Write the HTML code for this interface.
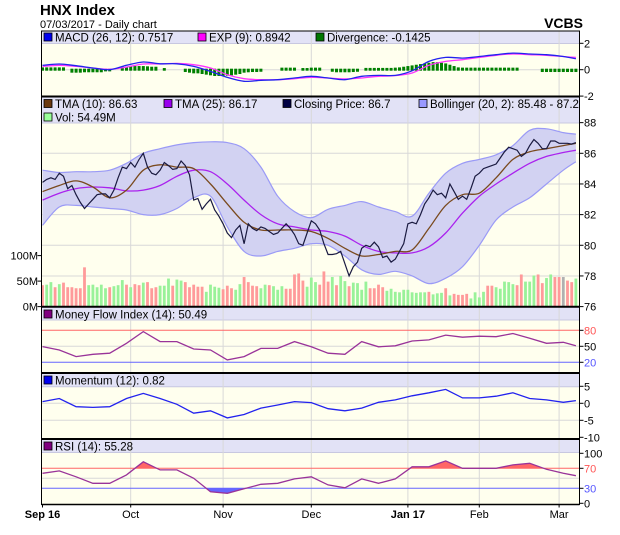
<!DOCTYPE html>
<html><head><meta charset="utf-8"><style>
html,body{margin:0;padding:0;background:#fff;}
svg{display:block;font-family:"Liberation Sans",sans-serif;}
</style></head><body>
<svg id="chart" width="620" height="535" viewBox="0 0 620 535" xmlns="http://www.w3.org/2000/svg">
<text x="40" y="15" font-size="15" font-weight="bold" fill="#000">HNX Index</text>
<text x="40" y="28" font-size="11" fill="#000">07/03/2017 - Daily chart</text>
<text x="583" y="28" font-size="14" font-weight="bold" text-anchor="end" fill="#000">VCBS</text>
<g id="layer"></g>
</svg>
<script>
// ---- data ----
const monthLabels = ["Sep 16","Oct","Nov","Dec","Jan 17","Feb","Mar"];
const monthBold = [true,false,false,false,true,false,false];
const monthStartIdx = [0,21,43,64,87,104,123];
const closes = [84.1,84.3,84.4,84.3,84.7,84.5,83.7,83.9,83.3,82.8,82.4,82.7,83.0,83.3,83.35,83.35,83.1,83.6,84.4,85.1,85.0,85.4,85.1,85.6,86.0,85.1,84.7,84.6,84.9,85.4,85.2,84.95,85.0,85.5,85.2,84.6,82.95,83.05,82.35,82.7,83.0,82.3,81.9,81.4,80.8,80.5,81.0,81.3,80.1,81.4,81.1,80.95,81.2,81.1,80.9,80.7,80.8,81.1,81.4,81.1,80.7,80.1,80.0,80.8,81.6,81.4,81.0,80.1,79.4,79.4,79.45,79.6,78.8,78.0,78.6,78.9,79.8,80.0,79.9,80.2,79.9,79.2,79.3,78.9,79.1,79.6,80.1,81.4,81.5,81.4,82.0,82.7,83.1,83.6,83.3,83.4,83.1,84.0,83.5,83.0,83.2,83.0,83.7,84.5,84.7,85.0,85.1,85.2,85.3,85.7,86.1,86.4,86.3,86.2,85.8,86.0,86.5,86.9,86.65,86.3,86.3,86.8,86.8,86.65,86.65,86.65,86.6,86.7];
const volumes = [42,43,48,38,44,47,38,38,36,36,77,42,43,38,43,36,38,40,42,52,43,38,44,42,47,48,36,38,41,41,55,41,53,51,48,38,43,39,39,29,43,39,37,34,41,36,33,44,58,48,41,40,36,43,42,40,33,40,35,35,63,65,51,39,57,48,43,69,49,58,42,60,50,40,47,46,33,49,36,36,43,38,31,35,29,28,33,33,28,27,28,28,29,24,26,27,36,22,25,23,23,25,16,28,18,29,41,41,38,35,49,48,44,42,63,49,49,61,63,46,56,63,58,58,58,51,48,55];
const volDir = ["d","g","g","d","g","d","d","d","d","d","d","g","g","g","g","g","d","g","g","g","d","g","d","d","g","d","d","d","g","g","g","d","g","g","d","d","d","d","d","g","g","g","g","d","d","d","g","g","d","d","d","d","g","g","d","g","g","g","d","d","d","d","d","g","g","g","d","d","d","g","d","g","g","d","g","g","g","g","d","d","d","d","g","g","g","g","g","g","g","g","g","g","d","g","g","g","d","g","d","d","d","d","g","g","g","g","d","d","g","g","g","g","g","d","d","g","g","g","d","d","g","g","d","d","n","d","d","g"];
// sampled every 4 trading days (last sample = final day)
const sampleStep = 4;
const tma10 = [83.5,83.9,84.2,83.8,83.1,83.6,84.9,85.25,85.1,85.0,84.0,82.7,81.5,81.0,81.0,81.0,80.9,80.45,79.8,79.3,79.4,79.6,79.7,81.1,82.6,83.3,83.4,84.4,85.6,86.1,86.3,86.5,86.65];
const tma25 = [82.95,83.4,83.7,83.8,83.75,83.55,83.6,83.9,84.5,84.9,84.8,84.0,82.95,82.0,81.4,81.2,81.0,80.9,80.6,80.0,79.6,79.5,79.5,79.9,80.8,82.1,83.2,84.0,84.7,85.35,85.8,86.05,86.2];
const bollUpper = [84.9,84.75,84.8,84.8,84.9,85.35,86.0,86.3,86.55,86.7,86.75,86.7,86.3,85.1,83.2,82.2,81.8,82.35,82.6,82.85,82.5,82.2,81.9,83.4,84.7,85.35,85.6,85.9,86.5,87.5,87.6,87.35,87.25];
const bollLower = [81.3,82.5,82.6,82.5,82.4,82.3,82.0,82.0,82.4,83.1,83.2,81.2,79.6,79.3,79.6,79.8,80.1,80.0,79.3,78.4,78.1,78.3,78.0,77.5,77.85,78.6,80.0,81.65,82.5,83.1,84.0,84.9,85.45];
const macd = [0.33,0.43,0.3,0.13,0,0.33,0.58,0.45,0.45,0.25,-0.13,-0.58,-0.88,-0.8,-0.76,-0.63,-0.5,-0.63,-0.76,-0.5,-0.43,-0.43,-0.08,0.63,0.93,0.88,1.0,1.14,1.26,1.19,1.14,1.0,0.83];
const macdSignal = [0.25,0.33,0.25,0.13,0.03,0.2,0.43,0.43,0.48,0.38,0.13,-0.38,-0.68,-0.76,-0.76,-0.68,-0.58,-0.63,-0.7,-0.63,-0.5,-0.45,-0.25,0.33,0.63,0.76,0.93,1.09,1.19,1.14,1.09,1.0,0.93];
const divergence = [0.1,0.1,0.1,0.1,0.1,0.1,0,-0.15,-0.15,-0.15,-0.12,-0.12,-0.12,-0.12,-0.12,-0.05,-0.05,0,0,0.15,0.15,0.18,0.2,0.2,0.2,0.18,0.15,0.15,0,0.05,0,0,0,0,-0.1,-0.15,-0.2,-0.2,-0.25,-0.3,-0.35,-0.4,-0.4,-0.4,-0.38,-0.35,-0.3,-0.25,-0.15,-0.12,-0.1,-0.1,-0.08,0,0,0,0,0.08,0.08,0.08,0.08,0,0.05,0.05,0.08,0.08,0.08,0,0,-0.08,-0.12,-0.12,-0.12,-0.12,-0.1,-0.08,0,0.06,0.06,0.06,0.06,0.06,0.06,0.06,0.08,0.1,0.15,0.2,0.25,0.3,0.35,0.4,0.45,0.5,0.5,0.45,0.4,0.3,0.2,0.1,0.08,0.08,0.08,0.08,0.08,0.08,0.08,0.08,0.08,0.08,0.08,0.08,0.08,0.08,0,0,0,0,0,-0.1,-0.1,-0.1,-0.1,-0.1,-0.1,-0.1,-0.1,-0.1];
const mfi = [49.4,43,30.6,35,37,55.6,77.5,58.8,58.8,45,43,24.4,30.6,46,46,58.8,49,37,35,58.8,49,51,60,62,71,67,69,68,74,65,55.6,57.5,51];
const momentum = [0.5,1.4,-1,-1.2,-1,1.4,2.9,1.4,-0.3,-2.9,-2.2,-4.3,-3.3,-1.4,-0.5,0.5,0.2,-1.6,-2.2,-1.4,0.3,1,2.2,3.1,4.1,1.6,1.6,2.1,3.1,1.4,1,0.3,0.8];
const rsi = [60,64.7,53,40,40,56.7,83,66.7,66.7,50,23,20,29,38,40,48.7,53,36.7,31,48.7,40,48.7,73,73,84.7,70,70,70,76.7,80,68,60,55.3];
const priceTicks = [76,78,80,82,84,86,88];
const volTicks = [0,50,100];
const macdTicks = [-2,0,2];
const mfiTicks = [20,50,80];
const momTicks = [-10,-5,0,5];
const rsiTicks = [0,30,70,100];

// ---- layout ----
const L = 41.5, R = 579.5;
const NS = "http://www.w3.org/2000/svg";
const layer = document.getElementById('layer');
function mk(tag, attrs, parent){const e=document.createElementNS(NS,tag);for(const k in attrs)e.setAttribute(k,attrs[k]);(parent||layer).appendChild(e);return e;}
const xDay = i => 42.5 + i*4.2;
const sIdx = k => Math.min(k*sampleStep, closes.length-1);
const yPrice = p => 306.6 - (p-76)*15.33;
const yVol = v => 306.6 - v*0.51;
const yMacd = v => 69.7 - v*13.2;
const yMfi = v => 346.3 - (v-50)*0.533;
const yMom = v => 403.3 - v*3.4;
const yRsi = v => 468.3 - (v-70)*0.5;

function smoothPath(pts){
  let d = "M"+pts[0][0].toFixed(1)+","+pts[0][1].toFixed(1);
  for(let i=0;i<pts.length-1;i++){
    const p0=pts[Math.max(0,i-1)],p1=pts[i],p2=pts[i+1],p3=pts[Math.min(pts.length-1,i+2)];
    const c1=[p1[0]+(p2[0]-p0[0])/6,p1[1]+(p2[1]-p0[1])/6];
    const c2=[p2[0]-(p3[0]-p1[0])/6,p2[1]-(p3[1]-p1[1])/6];
    d+=" C"+c1[0].toFixed(1)+","+c1[1].toFixed(1)+" "+c2[0].toFixed(1)+","+c2[1].toFixed(1)+" "+p2[0].toFixed(1)+","+p2[1].toFixed(1);
  }
  return d;
}
function linePath(pts){return "M"+pts.map(p=>p[0].toFixed(1)+","+p[1].toFixed(1)).join(" L");}
const sampled = (arr, yf) => arr.map((v,k)=>[xDay(sIdx(k)), yf(v)]);

const panels = [
  {name:'macd', top:31, head:43.5, bot:96},
  {name:'price', top:97, head:123, bot:306.5},
  {name:'mfi', top:307.5, head:320, bot:372.5},
  {name:'momentum', top:373.5, head:386.7, bot:438.5},
  {name:'rsi', top:439.5, head:452.5, bot:504.5}
];
panels.forEach(p=>{
  const h = mk('rect',{x:L,y:p.top,width:R-L,height:p.head-p.top,fill:'#e2e2f6'});
  
  
  const b = mk('rect',{x:L,y:p.head,width:R-L,height:p.bot-p.head,fill:'#ffffee'});
  
  
  mk('line',{x1:L,x2:R,y1:p.head,y2:p.head,stroke:'#c8c8e0','stroke-width':1});
});
panels.forEach(p=>{
  monthStartIdx.forEach((mi,k)=>{ if(k>0) mk('line',{x1:xDay(mi),x2:xDay(mi),y1:p.top,y2:p.bot,stroke:'#d8d8d8','stroke-width':1}); });
});
function hgrid(y,color){mk('line',{x1:L,x2:R,y1:y,y2:y,stroke:color,'stroke-width':1});}
priceTicks.forEach(t=>{ if(t>76&&t<88) hgrid(yPrice(t),'#d8d8d8'); });
hgrid(yMacd(0),'#d8d8d8');
hgrid(yMfi(50),'#d8d8d8'); hgrid(yMfi(80),'#ff6666'); hgrid(yMfi(20),'#6666ff');
hgrid(yMom(0),'#d8d8d8'); hgrid(yMom(-5),'#d8d8d8');
hgrid(yRsi(50),'#d8d8d8');

// ---- MACD panel ----
divergence.forEach((v,i)=>{
  if(v===0) return;
  const y0=yMacd(0), y1=yMacd(v);
  const r = mk('rect',{x:xDay(i)-1.5,y:Math.min(y0,y1)-1,width:3,height:Math.abs(y1-y0)+2,fill:'#008000'});
  
  
});
let pth = mk('path',{d:smoothPath(sampled(macdSignal,yMacd)),fill:'none',stroke:'#ff33ff','stroke-width':1.3});


pth = mk('path',{d:smoothPath(sampled(macd,yMacd)),fill:'none',stroke:'#2222ee','stroke-width':1.3});



// ---- price panel ----
const up = sampled(bollUpper,yPrice), lo = sampled(bollLower,yPrice).reverse();
const bandD = smoothPath(up) + " L" + smoothPath(lo).slice(1) + " Z";
pth = mk('path',{d:bandD,fill:'#d2d2f2',stroke:'none'});


pth = mk('path',{d:smoothPath(up),fill:'none',stroke:'#9a9af6','stroke-width':1.2});


pth = mk('path',{d:smoothPath(sampled(bollLower,yPrice)),fill:'none',stroke:'#9a9af6','stroke-width':1.2});


const vcol = {g:'#99f299',d:'#ff9a9a',n:'#b0b0b0'};
volumes.forEach((v,i)=>{
  const c = volDir[i]||'g';
  const r = mk('rect',{x:xDay(i)-1.4,y:yVol(v),width:2.8,height:yVol(0)-yVol(v),fill:vcol[c]});
  
  
});
pth = mk('path',{d:smoothPath(sampled(tma25,yPrice)),fill:'none',stroke:'#aa22ee','stroke-width':1.3});


pth = mk('path',{d:smoothPath(sampled(tma10,yPrice)),fill:'none',stroke:'#7a4a1e','stroke-width':1.3});


pth = mk('path',{d:linePath(closes.map((v,i)=>[xDay(i),yPrice(v)])),fill:'none',stroke:'#1a1a40','stroke-width':1.2});



// ---- MFI ----
pth = mk('path',{d:linePath(sampled(mfi,yMfi)),fill:'none',stroke:'#993399','stroke-width':1.3});


// ---- momentum ----
pth = mk('path',{d:linePath(sampled(momentum,yMom)),fill:'none',stroke:'#2222ee','stroke-width':1.3});


// ---- RSI ----
const defs = mk('defs',{});
const c1 = mk('clipPath',{id:'above70'},defs); mk('rect',{x:L,y:452,width:R-L,height:yRsi(70)-452},c1);
const c2 = mk('clipPath',{id:'below30'},defs); mk('rect',{x:L,y:yRsi(30),width:R-L,height:505-yRsi(30)},c2);
const rp = sampled(rsi,yRsi);
const rl = linePath(rp);
pth = mk('path',{d:rl+" L"+rp[rp.length-1][0]+","+yRsi(70)+" L"+rp[0][0]+","+yRsi(70)+" Z",fill:'#ff6666','clip-path':'url(#above70)'});


pth = mk('path',{d:rl+" L"+rp[rp.length-1][0]+","+yRsi(30)+" L"+rp[0][0]+","+yRsi(30)+" Z",fill:'#6666ff','clip-path':'url(#below30)'});


hgrid(yRsi(70),'#ff6666'); hgrid(yRsi(30),'#6666ff');
pth = mk('path',{d:rl,fill:'none',stroke:'#993399','stroke-width':1.3});



// borders
mk('rect',{x:L,y:31,width:R-L,height:504.5-31,fill:'none',stroke:'#000','stroke-width':1});
[96.5,306.8,373,439].forEach(y=>mk('line',{x1:L,x2:R,y1:y,y2:y,stroke:'#000','stroke-width':2}));
mk('line',{x1:L,x2:R,y1:504.5,y2:504.5,stroke:'#000','stroke-width':1.5});

function rtick(y,txt,color,name){
  mk('line',{x1:R,x2:R+4,y1:y,y2:y,stroke:'#000','stroke-width':1});
  const t = mk('text',{x:584,y:y+4,'font-size':11,fill:color||'#000'}); t.textContent=txt;
  
  
}
macdTicks.forEach(v=>rtick(yMacd(v),String(v),'#000','macd-tick'));
priceTicks.forEach(v=>rtick(yPrice(v),String(v),'#000','price-tick'));
mfiTicks.forEach(v=>rtick(yMfi(v),String(v),v===80?'#ff5555':v===20?'#5555ff':'#000','mfi-tick'));
momTicks.forEach(v=>rtick(yMom(v),String(v),'#000','momentum-tick'));
rsiTicks.forEach(v=>rtick(yRsi(v),String(v),v===70?'#ff5555':v===30?'#5555ff':'#000','rsi-tick'));
volTicks.forEach(v=>{
  mk('line',{x1:L-4,x2:L,y1:yVol(v),y2:yVol(v),stroke:'#000','stroke-width':1});
  const t = mk('text',{x:38,y:yVol(v)+4,'font-size':11,'text-anchor':'end',fill:'#000'}); t.textContent=v+'M';
  
  
});
monthLabels.forEach((m,k)=>{
  const x = xDay(monthStartIdx[k]);
  mk('line',{x1:x,x2:x,y1:504.5,y2:507.5,stroke:'#000','stroke-width':1});
  const t = mk('text',{x:x,y:518,'font-size':11,'text-anchor':'middle','font-weight':monthBold[k]?'bold':'normal',fill:'#000'}); t.textContent=m;
  
  
});
function legend(x,y,color,txt,name){
  const r = mk('rect',{x:x,y:y-8.5,width:8,height:8,fill:color,stroke:'#000','stroke-width':0.8});
  
  
  const t = mk('text',{x:x+11,y:y,'font-size':11.5,fill:'#000'}); t.textContent=txt;
  
  
}
legend(44,41.5,'#0000ee','MACD (26, 12): 0.7517','legend-macd');
legend(198,41.5,'#ff00ff','EXP (9): 0.8942','legend-exp');
legend(316,41.5,'#007700','Divergence: -0.1425','legend-divergence');
legend(44,108,'#6b3a10','TMA (10): 86.63','legend-tma10');
legend(164,108,'#9900ee','TMA (25): 86.17','legend-tma25');
legend(283,108,'#000044','Closing Price: 86.7','legend-closing-price');
legend(419,108,'#9999ff','Bollinger (20, 2): 85.48 - 87.2','legend-bollinger');
legend(44,121.5,'#99ff99','Vol: 54.49M','legend-volume');
legend(44,318.5,'#800080','Money Flow Index (14): 50.49','legend-mfi');
legend(44,384.5,'#0000ee','Momentum (12): 0.82','legend-momentum');
legend(44,450.5,'#800080','RSI (14): 55.28','legend-rsi');
</script>
</body></html>
